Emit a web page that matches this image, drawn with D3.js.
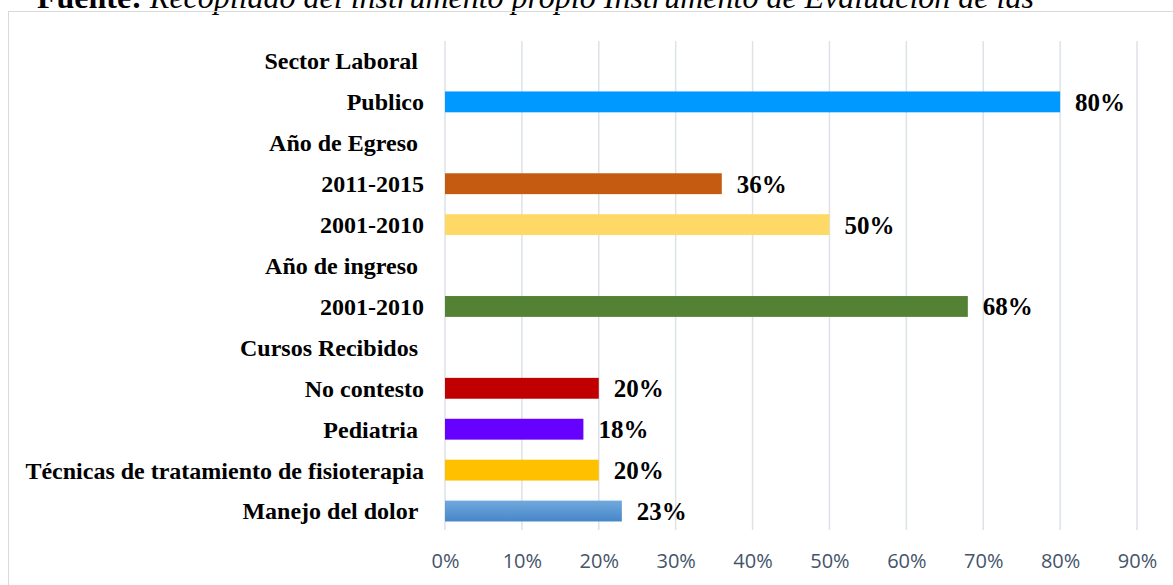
<!DOCTYPE html>
<html><head><meta charset="utf-8">
<script src="https://cdn.jsdelivr.net/npm/d3@7"></script>
<style>body{margin:0;background:#fff}svg{display:block}</style>
</head><body><svg id="c" width="1173" height="585"></svg>
<script>
const categories = ["Sector Laboral ","Publico","Año de Egreso ","2011-2015","2001-2010","Año de ingreso ","2001-2010","Cursos Recibidos ","No contesto","Pediatria ","Técnicas de tratamiento de fisioterapia","Manejo del dolor "];
const values = [null,0.80,null,0.36,0.50,null,0.68,null,0.20,0.18,0.20,0.23];
const colors = [null,"#0099FF",null,"#C55A11","#FFD966",null,"#548235",null,"#C00000","#6600FF","#FFC000","url(#blueGrad)"];
const ticks = [0,0.1,0.2,0.3,0.4,0.5,0.6,0.7,0.8,0.9];

const svg = d3.select("#c");
const defs = svg.append("defs");
const g1 = defs.append("linearGradient").attr("id","blueGrad").attr("x1",0).attr("y1",0).attr("x2",0).attr("y2",1);
g1.append("stop").attr("offset","0%").attr("stop-color","#70A9DE");
g1.append("stop").attr("offset","100%").attr("stop-color","#4786C8");

// source caption (clipped at top, as in the reference)
const cap = svg.append("text").attr("x",37).attr("y",8).attr("font-family","Liberation Serif").attr("font-size",32).attr("fill","#000");
cap.append("tspan").attr("font-weight","bold").text("Fuente: ");
cap.append("tspan").attr("font-style","italic").text("Recopilado del instrumento propio Instrumento de Evaluación de las");

// border
svg.append("rect").attr("x",8.5).attr("y",11.5).attr("width",1180).attr("height",600).attr("fill","none").attr("stroke","#D9D9D9");

const x = d3.scaleLinear().domain([0,0.9]).range([445,1137]);
const n = categories.length;
const y = d3.scaleBand().domain(d3.range(n)).range([40.5, 531.5]).paddingInner(0.49).paddingOuter(0.245);

// gridlines
svg.append("g").selectAll("line").data(ticks).join("line")
  .attr("x1",d=>x(d)).attr("x2",d=>x(d)).attr("y1",41).attr("y2",530)
  .attr("stroke","#DDE2E8").attr("stroke-width",1.5);

// axis labels
const ax = svg.append("g").attr("transform","translate(0,530)").call(d3.axisBottom(x).tickValues(ticks).tickFormat(d3.format(".0%")).tickSize(0).tickPadding(0));
ax.select(".domain").remove();
ax.selectAll("text").attr("dy",null).attr("y",38).attr("font-family","Open Sans").attr("font-size",20).attr("fill","#44546A");

// category labels
svg.append("g").selectAll("text").data(categories).join("text")
  .attr("x",424).attr("y",(d,i)=>y(i)+y.bandwidth()/2).attr("dy","0.35em")
  .attr("text-anchor","end").style("white-space","pre")
  .attr("font-family","Liberation Serif").attr("font-weight","bold").attr("font-size",24).attr("fill","#000")
  .text(d=>d);

const idx = d3.range(n).filter(i=>values[i]!=null);
svg.append("g").selectAll("rect").data(idx).join("rect")
  .attr("x",x(0)).attr("y",i=>y(i)).attr("width",i=>x(values[i])-x(0)).attr("height",y.bandwidth())
  .attr("fill",i=>colors[i]);

svg.append("g").selectAll("text").data(idx).join("text")
  .attr("x",i=>x(values[i])+15).attr("y",i=>y(i)+y.bandwidth()/2).attr("dy","0.36em")
  .attr("font-family","Liberation Serif").attr("font-weight","bold").attr("font-size",25).attr("fill","#000")
  .text(i=>d3.format(".0%")(values[i]));
</script>
</body></html>
